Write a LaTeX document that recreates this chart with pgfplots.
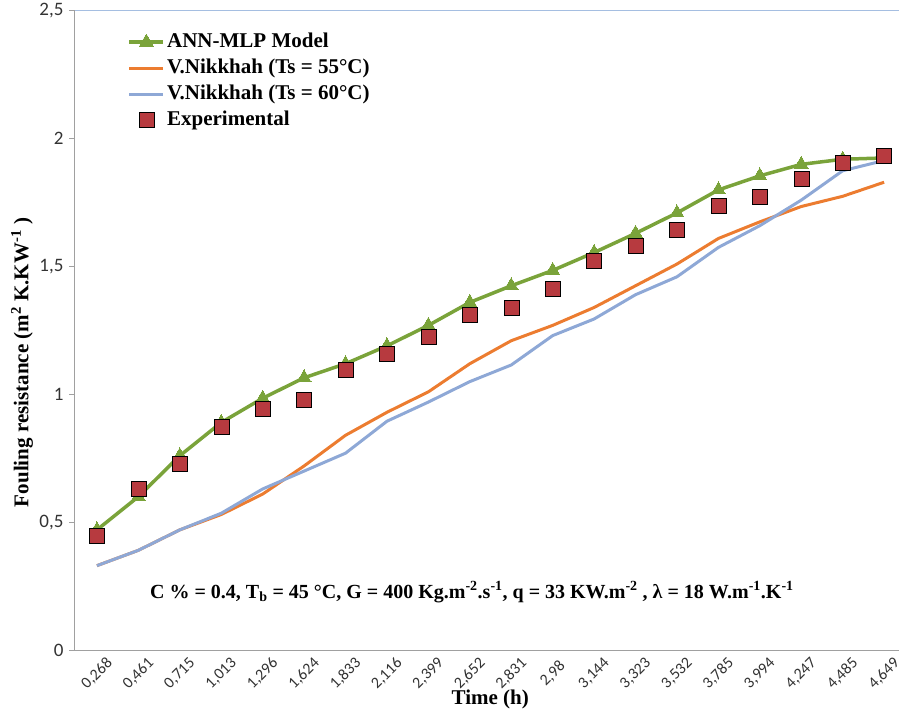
\documentclass[border=0pt]{standalone}
\usepackage{pgfplots}
\pgfplotsset{compat=1.18}
\usepackage{fontspec}
\setmainfont{Liberation Serif}
\newfontfamily\tickfont{Carlito}
\definecolor{anngreen}{RGB}{122,163,58}
\definecolor{nikorange}{RGB}{236,124,48}
\definecolor{nikblue}{RGB}{142,168,214}
\definecolor{expred}{RGB}{183,58,63}
\definecolor{axgray}{RGB}{160,160,160}
\definecolor{topblue}{RGB}{165,190,225}
\begin{document}
\begin{tikzpicture}
\begin{axis}[
  scale only axis,
  width=824pt, height=639pt,
  xmin=-0.53, xmax=19.36,
  ymin=0, ymax=2.5,
  axis x line*=bottom,
  axis y line*=left,
  axis line style={axgray, line width=1pt, -},
  xtick={0,...,19},
  xticklabels={{0,268},{0,461},{0,715},{1,013},{1,296},{1,624},{1,833},{2,116},{2,399},{2,652},{2,831},{2,98},{3,144},{3,323},{3,532},{3,785},{3,994},{4,247},{4,485},{4,649}},
  x tick style={draw=none},
  xticklabel style={rotate=45, anchor=center, xshift=-12.5pt, yshift=-12.5pt, font=\tickfont\fontsize{16}{18}\selectfont, text=black!80},
  ytick={0,0.5,1,1.5,2,2.5},
  yticklabels={0,{0,5},1,{1,5},2,{2,5}},
  y tick style={axgray, line width=1pt},
  major tick length=6pt,
  tick align=outside,
  yticklabel style={font=\tickfont\fontsize{19}{21}\selectfont, text=black!80, xshift=-2pt},
  xlabel={\textbf{Time (h)}},
  xlabel style={at={(axis description cs:0.504,-0.077)}, anchor=center, font=\fontsize{21}{24}\selectfont},
  ylabel={\textbf{Fouling resistance (m\textsuperscript{2} K.KW\textsuperscript{-1} )}},
  ylabel style={at={(axis description cs:-0.0643,0.45)}, anchor=center, font=\fontsize{21}{24}\selectfont},
  legend style={at={(axis description cs:0.06,0.972)}, anchor=north west, draw=none, fill=none,
    font=\bfseries\fontsize{21}{23}\selectfont, row sep=4pt,
    nodes={inner sep=2pt, text height=14pt, text depth=4pt}},
  legend cell align=left,
  legend image code/.code={\draw[mark repeat=2,mark phase=2,#1] plot coordinates {(0pt,0pt)(17pt,0pt)(34pt,0pt)};},
  clip=false,
]
\addplot[anngreen, line width=3.5pt, mark=triangle*, mark size=8pt, mark options={line width=0pt, fill=anngreen}] coordinates {
(0,0.47)(1,0.60)(2,0.76)(3,0.89)(4,0.985)(5,1.065)(6,1.12)(7,1.19)(8,1.27)(9,1.36)
(10,1.425)(11,1.485)(12,1.555)(13,1.63)(14,1.71)(15,1.80)(16,1.855)(17,1.90)(18,1.92)(19,1.925)};
\addlegendentry{ANN-MLP Model}
\addplot[nikorange, line width=3pt] coordinates {
(0,0.33)(1,0.39)(2,0.47)(3,0.53)(4,0.61)(5,0.72)(6,0.84)(7,0.93)(8,1.01)(9,1.12)
(10,1.21)(11,1.27)(12,1.34)(13,1.425)(14,1.51)(15,1.61)(16,1.675)(17,1.735)(18,1.775)(19,1.83)};
\addlegendentry{V.Nikkhah (Ts = 55°C)}
\addplot[nikblue, line width=3pt] coordinates {
(0,0.33)(1,0.39)(2,0.47)(3,0.535)(4,0.63)(5,0.70)(6,0.77)(7,0.895)(8,0.97)(9,1.05)
(10,1.115)(11,1.23)(12,1.295)(13,1.39)(14,1.46)(15,1.575)(16,1.66)(17,1.76)(18,1.875)(19,1.915)};
\addlegendentry{V.Nikkhah (Ts = 60°C)}
\addplot[only marks, mark=square*, mark size=7.5pt, mark options={draw=none, fill=expred}] coordinates {
(0,0.446)(1,0.63)(2,0.73)(3,0.875)(4,0.945)(5,0.98)(6,1.095)(7,1.16)(8,1.225)(9,1.31)
(10,1.34)(11,1.415)(12,1.525)(13,1.58)(14,1.645)(15,1.74)(16,1.775)(17,1.845)(18,1.905)(19,1.935)};
\addlegendentry{Experimental}
\draw[topblue, line width=1pt] (rel axis cs:0,1) -- (rel axis cs:1,1);
\node[font=\bfseries\fontsize{20}{22}\selectfont, anchor=center] at (axis cs:9.05,0.227)
  {C \% = 0.4, T\textsubscript{b} = 45 °C, G = 400 Kg.m\textsuperscript{-2}.s\textsuperscript{-1}, q = 33 KW.m\textsuperscript{-2} , λ = 18 W.m\textsuperscript{-1}.K\textsuperscript{-1}};
\end{axis}
\pgfresetboundingbox
\path[use as bounding box] ([xshift=-75pt,yshift=-65pt]current axis.south west) rectangle ([yshift=11pt]current axis.north east);
\end{tikzpicture}
\end{document}
